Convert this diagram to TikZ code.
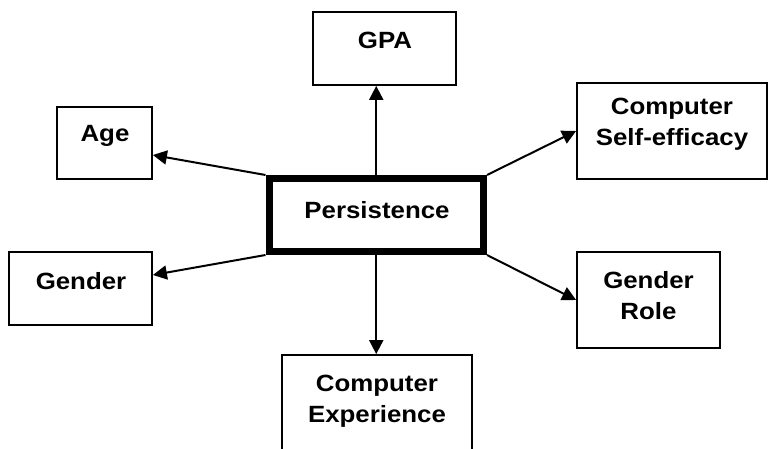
\documentclass[tikz,border=0pt]{standalone}
\usepackage{fontspec}
\setmainfont{Liberation Sans}[FakeStretch=1.1]
\usetikzlibrary{arrows.meta}
\begin{document}
\begin{tikzpicture}[x=1pt,y=-1pt,
  box/.style={draw=black, line width=1.8pt, fill=white, inner sep=0pt},
  lbl/.style={font=\fontsize{23.5}{31}\selectfont\bfseries, align=center, inner sep=0pt},
  arr/.style={line width=2pt, -{Triangle[length=14pt,width=14pt]}}]
\useasboundingbox[fill=white] (0,0) rectangle (769,449);
% boxes
\node[box, minimum width=143pt, minimum height=73pt] (gpa) at (384.5,48.5) {};
\node[box, minimum width=95pt, minimum height=72pt] (age) at (104.5,143) {};
\node[box, minimum width=143pt, minimum height=73pt] (gen) at (80.5,288.5) {};
\node[box, minimum width=190pt, minimum height=96pt] (cse) at (672,131) {};
\node[box, minimum width=143pt, minimum height=96pt] (gr) at (648.5,300) {};
\node[box, minimum width=190pt, minimum height=96pt] (ce) at (377,403) {};
\node[draw=black, line width=7pt, fill=white, inner sep=0pt, minimum width=214.5pt, minimum height=73pt] (pers) at (376.25,215) {};
% labels
\node[lbl] (gpa-t) at (385,40) {GPA};
\node[lbl] (age-t) at (105,136) {Age};
\node[lbl] (gen-t) at (81,281) {Gender};
\node[lbl] (pers-t) at (377,210) {Persistence};
\node[lbl] (cse-t) at (672,124) {Computer\\Self-efficacy};
\node[lbl] (gr-t) at (648.5,296) {Gender\\Role};
\node[lbl] (ce-t) at (377,401.5) {Computer\\Experience};
% connectors
\draw[arr] (pers.north) -- (pers.north |- gpa.south);
\draw[arr] (pers.south) -- (pers.south |- ce.north);
\draw[arr] (pers.north west) -- ([yshift=-12pt]age.east);
\draw[arr] (pers.south west) -- ([yshift=13.5pt]gen.east);
\draw[arr] (pers.north east) -- (cse.west);
\draw[arr] (pers.south east) -- (gr.west);
\end{tikzpicture}
\end{document}
